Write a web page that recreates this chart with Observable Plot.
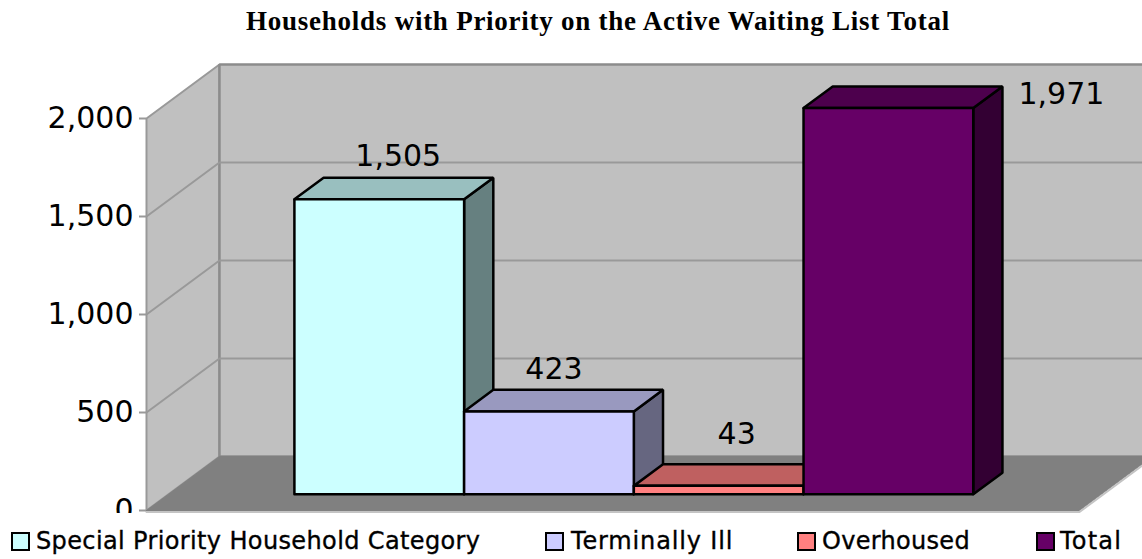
<!DOCTYPE html>
<html><head><meta charset="utf-8">
<script src="https://cdn.jsdelivr.net/npm/d3@7"></script>
<script src="https://cdn.jsdelivr.net/npm/@observablehq/plot@0.6"></script>
<style>
html,body{margin:0;padding:0;background:#fff;width:1142px;height:559px;overflow:hidden}
#title{height:60px;position:relative;font:bold 27px "Liberation Serif",serif;color:#000}
#title span{position:absolute;left:246px;top:6px;width:704px;text-align:center;white-space:nowrap;letter-spacing:.75px}
#chart svg{display:block;overflow:hidden;background:transparent}
#legend{position:relative;height:46px;background:#fff;font:24px "DejaVu Sans",sans-serif;color:#000;-webkit-text-stroke:.35px #000}
.item{position:absolute;top:15px;white-space:nowrap;line-height:26px}
.sw{position:absolute;top:4px;width:15px;height:15px;border:2.5px solid #000;box-sizing:content-box}
</style></head><body>
<div id="title"><span>Households with Priority on the Active Waiting List Total</span></div>
<div id="chart"></div>
<div id="legend"></div>
<script>
const categories = ["Special Priority Household Category", "Terminally Ill", "Overhoused", "Total"];
const values = [1505, 423, 43, 1971];
const labels = ["1,505", "423", "43", "1,971"];
const yTicks = [0, 500, 1000, 1500, 2000];
const frontColors = ["#CCFFFF", "#CCCCFF", "#FF8080", "#660066"];
const topColors = ["#99BFBF", "#9999BF", "#BF6060", "#4D004D"];
const sideColors = ["#668080", "#666680", "#804040", "#330033"];

// Oblique projection: a point is (category position, value, depth 0..1)
const depthX = 0.43, depthY = 275.5;
const P = (c, v, d) => ({x: c + d * depthX, y: v + d * depthY});
const poly = (pts, o) => Plot.line([...pts, pts[0]], {x: "x", y: "y", curve: "linear", strokeLinejoin: "miter", ...o});
const xL = -0.7425, xR = 4.755, yMax = 2000, dFront = 0.3, dBack = 0.7;

const walls = [
  poly([P(xL,0,0), P(xL,yMax,0), P(xL,yMax,1), P(xL,0,1)], {fill: "#C0C0C0", stroke: "#999999", strokeWidth: 2}),
  poly([P(xL,0,1), P(xL,yMax,1), P(xR+1,yMax,1), P(xR+1,0,1)], {fill: "#C0C0C0", stroke: "#8C8C8C", strokeWidth: 2.5}),
  ...yTicks.slice(1, -1).map(t => Plot.line([P(xL,t,0), P(xL,t,1), P(xR+1,t,1)], {x:"x", y:"y", stroke:"#999999", strokeWidth:2})),
  poly([P(xL,0,0), P(xL,0,1), P(xR,0,1), P(xR,0,0)], {fill: "#808080", stroke: "#808080", strokeWidth: 1}),
  Plot.line([P(xL,0,0), P(xR,0,0), P(xR,0,1)], {x:"x", y:"y", stroke:"#C4C4C4", strokeWidth:2, dy:1.5})
];

const bars = values.flatMap((v, i) => {
  const a = i, b = i + 1, s = {stroke: "#000", strokeWidth: 2.5};
  return [
    poly([P(b,0,dFront), P(b,v,dFront), P(b,v,dBack), P(b,0,dBack)], {fill: sideColors[i], ...s}),
    poly([P(a,v,dFront), P(a,v,dBack), P(b,v,dBack), P(b,v,dFront)], {fill: topColors[i], ...s}),
    poly([P(a,0,dFront), P(a,v,dFront), P(b,v,dFront), P(b,0,dFront)], {fill: frontColors[i], ...s})
  ];
});

const nudges = [[19,-43],[5,-42],[18,-51],[173,-14]];
const valueLabels = values.map((v, i) => {
  const p = P(i + 0.5, v, dFront);
  return Plot.text([p], {x:"x", y:"y", text: () => labels[i], dx: nudges[i][0], dy: nudges[i][1],
    fontSize: 30, fontFamily: "DejaVu Sans", fill: "#000", textAnchor: "middle", lineAnchor: "middle"});
});

const plot = Plot.plot({
  width: 1142, height: 453,
  marginLeft: 146, marginRight: 63, marginTop: 58, marginBottom: 3,
  x: {domain: [xL, xR], axis: null},
  y: {domain: [0, yMax], axis: null},
  style: {background: "transparent", overflow: "hidden"},
  marks: [
    ...walls,
    ...bars,
    ...valueLabels,
    Plot.axisY(yTicks, {anchor: "left", tickSize: 7, tickPadding: 6, tickFormat: d3.format(","), label: null,
      fontSize: 30, fontFamily: "DejaVu Sans", stroke: "#999999", strokeWidth: 2, fill: "#000", fontVariant: "normal"})
  ]
});
document.getElementById("chart").appendChild(plot);

const lx = [[11,36,.37],[545,571,.85],[797,822,.3],[1036,1060,1.2]];
const legend = document.getElementById("legend");
categories.forEach((c, i) => {
  const sw = document.createElement("div");
  sw.className = "item";
  sw.style.left = lx[i][0] + "px";
  sw.innerHTML = `<div class="sw" style="background:${frontColors[i]}"></div>`;
  legend.appendChild(sw);
  const t = document.createElement("div");
  t.className = "item";
  t.style.left = lx[i][1] + "px";
  t.style.letterSpacing = lx[i][2] + "px";
  t.textContent = c;
  legend.appendChild(t);
});
</script>
</body></html>
